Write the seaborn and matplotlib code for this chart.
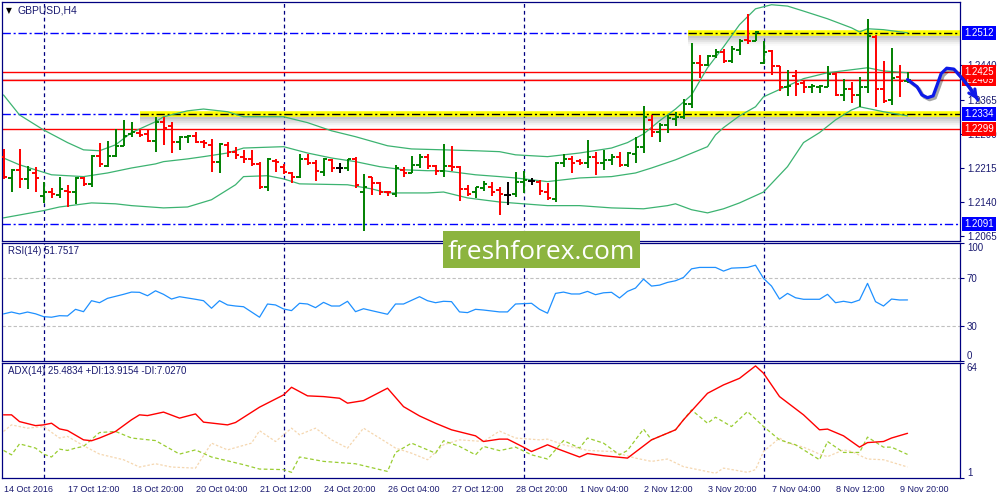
import numpy as np
import matplotlib
matplotlib.use("Agg")
import matplotlib.pyplot as plt
import matplotlib.patheffects as pe
from matplotlib.patches import Rectangle
import seaborn as sns

# GBPUSD H4 bars, one value per bar (14 Oct 2016 04:00 .. 9 Nov 2016 16:00)
opens = [1.2239, 1.2192, 1.2210, 1.2190, 1.2203, 1.2153, 1.2160, 1.2155, 1.2164, 1.2162,
         1.2192, 1.2179, 1.2241, 1.2219, 1.2241, 1.2263, 1.2289, 1.2292, 1.2289, 1.2274,
         1.2316, 1.2307, 1.2272, 1.2282, 1.2285, 1.2272, 1.2265, 1.2228, 1.2265, 1.2250,
         1.2238, 1.2234, 1.2222, 1.2173, 1.2230, 1.2216, 1.2204, 1.2195, 1.2234, 1.2226,
         1.2206, 1.2232, 1.2214, 1.2214, 1.2234, 1.2161, 1.2194, 1.2181, 1.2162, 1.2156,
         1.2210, 1.2204, 1.2221, 1.2239, 1.2219, 1.2208, 1.2219, 1.2216, 1.2167, 1.2160,
         1.2170, 1.2172, 1.2166, 1.2155, 1.2157, 1.2182, 1.2186, 1.2184, 1.2160, 1.2145,
         1.2225, 1.2234, 1.2230, 1.2225, 1.2239, 1.2226, 1.2232, 1.2239, 1.2221, 1.2245,
         1.2261, 1.2320, 1.2294, 1.2309, 1.2322, 1.2327, 1.2356, 1.2445, 1.2441, 1.2460,
         1.2469, 1.2449, 1.2474, 1.2497, 1.2493, 1.2446, 1.2471, 1.2438, 1.2392, 1.2417,
         1.2401, 1.2392, 1.2392, 1.2392, 1.2422, 1.2375, 1.2388, 1.2375, 1.2392, 1.2502,
         1.2388, 1.2363, 1.2414, 1.2405]
highs = [1.2256, 1.2211, 1.2256, 1.2219, 1.2217, 1.2182, 1.2169, 1.2194, 1.2177, 1.2194,
         1.2195, 1.2243, 1.2270, 1.2274, 1.2300, 1.2320, 1.2316, 1.2300, 1.2300, 1.2327,
         1.2327, 1.2316, 1.2285, 1.2287, 1.2294, 1.2276, 1.2278, 1.2269, 1.2272, 1.2260,
         1.2253, 1.2253, 1.2228, 1.2236, 1.2234, 1.2223, 1.2206, 1.2245, 1.2245, 1.2232,
         1.2236, 1.2234, 1.2226, 1.2234, 1.2238, 1.2201, 1.2195, 1.2184, 1.2164, 1.2221,
         1.2216, 1.2241, 1.2245, 1.2245, 1.2221, 1.2267, 1.2263, 1.2219, 1.2177, 1.2173,
         1.2186, 1.2182, 1.2172, 1.2182, 1.2206, 1.2208, 1.2192, 1.2188, 1.2181, 1.2228,
         1.2245, 1.2241, 1.2234, 1.2276, 1.2250, 1.2253, 1.2245, 1.2250, 1.2250, 1.2282,
         1.2350, 1.2331, 1.2313, 1.2331, 1.2338, 1.2366, 1.2489, 1.2463, 1.2463, 1.2476,
         1.2476, 1.2482, 1.2498, 1.2554, 1.2517, 1.2493, 1.2474, 1.2439, 1.2430, 1.2430,
         1.2405, 1.2400, 1.2397, 1.2438, 1.2424, 1.2410, 1.2403, 1.2414, 1.2542, 1.2508,
         1.2449, 1.2478, 1.2441, 1.2426]
lows = [1.2190, 1.2162, 1.2170, 1.2168, 1.2162, 1.2137, 1.2148, 1.2148, 1.2129, 1.2135,
        1.2175, 1.2171, 1.2216, 1.2216, 1.2239, 1.2263, 1.2282, 1.2282, 1.2272, 1.2250,
        1.2265, 1.2248, 1.2253, 1.2269, 1.2270, 1.2258, 1.2206, 1.2204, 1.2239, 1.2234,
        1.2225, 1.2219, 1.2167, 1.2164, 1.2206, 1.2201, 1.2181, 1.2192, 1.2221, 1.2186,
        1.2197, 1.2206, 1.2204, 1.2208, 1.2170, 1.2076, 1.2155, 1.2155, 1.2153, 1.2151,
        1.2194, 1.2203, 1.2214, 1.2211, 1.2199, 1.2195, 1.2208, 1.2142, 1.2153, 1.2148,
        1.2164, 1.2153, 1.2111, 1.2133, 1.2151, 1.2159, 1.2177, 1.2155, 1.2144, 1.2138,
        1.2217, 1.2204, 1.2221, 1.2214, 1.2199, 1.2210, 1.2221, 1.2216, 1.2217, 1.2225,
        1.2248, 1.2283, 1.2272, 1.2292, 1.2307, 1.2322, 1.2346, 1.2412, 1.2439, 1.2456,
        1.2446, 1.2445, 1.2463, 1.2488, 1.2493, 1.2444, 1.2419, 1.2383, 1.2373, 1.2372,
        1.2379, 1.2380, 1.2380, 1.2392, 1.2373, 1.2361, 1.2358, 1.2348, 1.2380, 1.2348,
        1.2358, 1.2353, 1.2370, 1.2401]
closes = [1.2195, 1.2210, 1.2190, 1.2210, 1.2192, 1.2160, 1.2156, 1.2167, 1.2161, 1.2192,
          1.2179, 1.2241, 1.2223, 1.2241, 1.2263, 1.2285, 1.2294, 1.2287, 1.2274, 1.2316,
          1.2303, 1.2272, 1.2282, 1.2285, 1.2272, 1.2269, 1.2228, 1.2267, 1.2250, 1.2243,
          1.2234, 1.2223, 1.2173, 1.2234, 1.2228, 1.2206, 1.2195, 1.2234, 1.2226, 1.2208,
          1.2234, 1.2214, 1.2214, 1.2234, 1.2177, 1.2173, 1.2181, 1.2162, 1.2160, 1.2214,
          1.2204, 1.2221, 1.2239, 1.2219, 1.2208, 1.2219, 1.2216, 1.2167, 1.2157, 1.2172,
          1.2179, 1.2162, 1.2157, 1.2155, 1.2184, 1.2188, 1.2186, 1.2164, 1.2148, 1.2225,
          1.2234, 1.2225, 1.2225, 1.2239, 1.2226, 1.2232, 1.2238, 1.2221, 1.2247, 1.2261,
          1.2327, 1.2294, 1.2309, 1.2324, 1.2327, 1.2356, 1.2445, 1.2441, 1.2460, 1.2469,
          1.2451, 1.2476, 1.2495, 1.2493, 1.2513, 1.2470, 1.2438, 1.2392, 1.2395, 1.2400,
          1.2392, 1.2394, 1.2395, 1.2422, 1.2375, 1.2388, 1.2375, 1.2392, 1.2504, 1.2388,
          1.2361, 1.2412, 1.2405, 1.2409]

# Bollinger bands, read at the listed bars
upper_bars = [0, 2, 5, 8, 10, 12, 14, 16, 19, 20, 23, 25, 28, 30, 35, 38, 41, 44, 48, 51,
              55, 59, 62, 64, 68, 72, 76, 78, 80, 82, 84, 86, 88, 90, 92, 94, 96, 98, 100, 103,
              106, 107, 108, 110, 113]
upper = [1.2375, 1.2331, 1.2298, 1.2270, 1.2254, 1.2252, 1.2265, 1.2292, 1.2316, 1.2327,
         1.2340, 1.2344, 1.2338, 1.2327, 1.2327, 1.2314, 1.2296, 1.2283, 1.2263, 1.2256,
         1.2254, 1.2252, 1.2250, 1.2243, 1.2239, 1.2247, 1.2258, 1.2270, 1.2289, 1.2318,
         1.2344, 1.2375, 1.2435, 1.2481, 1.2530, 1.2565, 1.2574, 1.2571, 1.2560, 1.2543,
         1.2523, 1.2514, 1.2521, 1.2519, 1.2512]
mid_bars = [0, 2, 6, 10, 13, 16, 19, 20, 23, 25, 28, 30, 35, 38, 41, 44, 47, 50, 53, 55,
            59, 62, 64, 68, 72, 76, 79, 81, 84, 88, 89, 90, 92, 94, 95, 98, 100, 103, 108, 110,
            113]
middle = [1.2236, 1.2221, 1.2199, 1.2195, 1.2203, 1.2214, 1.2223, 1.2228, 1.2234, 1.2239,
          1.2247, 1.2258, 1.2261, 1.2247, 1.2236, 1.2228, 1.2217, 1.2210, 1.2208, 1.2208,
          1.2199, 1.2195, 1.2192, 1.2184, 1.2192, 1.2195, 1.2203, 1.2214, 1.2232, 1.2261,
          1.2287, 1.2303, 1.2329, 1.2349, 1.2371, 1.2395, 1.2411, 1.2424, 1.2435, 1.2428,
          1.2424]
lower_bars = [0, 5, 7, 11, 14, 16, 20, 23, 26, 29, 30, 33, 35, 37, 43, 46, 48, 53, 55, 58,
              62, 68, 72, 76, 80, 83, 84, 86, 88, 90, 92, 95, 98, 100, 102, 104, 106, 107, 110, 113]
lower = [1.2104, 1.2120, 1.2128, 1.2137, 1.2135, 1.2131, 1.2126, 1.2128, 1.2144, 1.2177,
         1.2195, 1.2197, 1.2190, 1.2179, 1.2177, 1.2168, 1.2159, 1.2159, 1.2161, 1.2148,
         1.2139, 1.2131, 1.2131, 1.2126, 1.2124, 1.2131, 1.2135, 1.2122, 1.2115, 1.2124,
         1.2137, 1.2161, 1.2217, 1.2270, 1.2292, 1.2320, 1.2342, 1.2349, 1.2338, 1.2329]

# RSI(14)
rsi_bars = [0, 1, 2, 3, 4, 5, 6, 7, 8, 9,
            10, 11, 12, 13, 15, 16, 17, 18, 19, 20,
            21, 22, 24, 25, 26, 27, 28, 29, 30, 32,
            33, 34, 35, 36, 37, 38, 39, 40, 41, 42,
            43, 44, 45, 46, 48, 49, 50, 52, 53, 54,
            55, 56, 57, 58, 59, 60, 62, 63, 64, 66,
            67, 68, 69, 70, 71, 72, 73, 74, 75, 76,
            77, 78, 79, 80, 81, 82, 83, 84, 85, 86,
            87, 89, 90, 91, 93, 94, 95, 96, 97, 98,
            99, 100, 102, 103, 104, 105, 106, 107, 108, 109,
            110, 111, 112, 113]
rsi = [39.9, 41.5, 39.9, 41.5, 40.0, 37.6, 37.1, 38.4, 38.2, 43.8,
       41.8, 51.1, 49.4, 53.1, 56.5, 58.4, 58.2, 55.3, 59.5, 56.5,
       52.5, 54.5, 52.3, 51.1, 44.7, 51.1, 47.5, 46.6, 46.0, 37.1,
       48.3, 47.5, 44.1, 42.7, 48.9, 48.3, 45.2, 49.7, 46.6, 46.6,
       50.6, 41.8, 44.3, 42.7, 39.6, 48.3, 48.3, 54.5, 51.1, 49.4,
       50.6, 50.3, 41.6, 41.0, 43.8, 43.2, 41.6, 41.6, 48.3, 48.9,
       43.8, 40.5, 57.3, 58.4, 56.8, 56.8, 59.0, 56.2, 57.8, 58.2,
       53.4, 59.0, 61.8, 69.4, 63.5, 64.3, 66.6, 68.0, 70.8, 78.1,
       79.3, 79.3, 76.2, 78.7, 79.3, 81.2, 70.0, 63.5, 52.5, 57.3,
       53.6, 52.3, 52.3, 56.5, 49.4, 50.6, 49.4, 51.7, 65.8, 50.3,
       46.6, 52.5, 51.7, 51.75]

# ADX(14) with +DI / -DI
adx_bars = [0, 1, 2, 4, 5, 6, 7, 8, 10, 11,
            12, 14, 16, 17, 18, 20, 22, 24, 25, 28,
            29, 32, 35, 36, 38, 40, 42, 43, 45, 48,
            50, 52, 54, 56, 59, 60, 62, 63, 65, 66,
            68, 69, 72, 73, 75, 78, 81, 84, 85, 88,
            90, 92, 94, 95, 97, 100, 102, 103, 105, 107,
            108, 110, 111, 113]
adx = [35.6, 35.6, 31.9, 29.7, 30.1, 31.0, 27.9, 27.0, 21.9, 21.4,
       22.9, 26.5, 32.9, 35.6, 35.2, 37.1, 33.8, 36.1, 31.6, 30.1,
       31.4, 39.8, 46.5, 50.7, 46.0, 45.6, 44.7, 42.0, 43.4, 50.2,
       40.1, 35.0, 31.0, 27.4, 24.1, 21.0, 22.3, 22.3, 17.9, 15.5,
       19.2, 17.4, 12.5, 14.4, 13.2, 11.9, 21.9, 27.4, 32.9, 47.4,
       52.0, 55.6, 62.4, 58.4, 45.6, 35.6, 27.4, 27.8, 24.1, 17.9,
       20.4, 21.0, 22.9, 25.48]
pdi_bars = [0, 1, 2, 4, 5, 6, 7, 8, 9, 10,
            12, 14, 16, 19, 22, 24, 26, 30, 32, 35,
            36, 37, 40, 44, 48, 49, 51, 54, 55, 57,
            59, 60, 62, 64, 66, 68, 70, 72, 73, 75,
            77, 78, 80, 81, 84, 86, 88, 89, 91, 93,
            95, 97, 99, 102, 103, 105, 107, 108, 110, 111,
            113]
plus_di = [16.1, 13.7, 19.7, 17.4, 14.1, 12.5, 16.8, 16.1, 17.4, 18.3,
           25.9, 26.5, 22.9, 21.5, 14.1, 16.4, 12.5, 8.3, 5.9, 5.6,
           4.1, 12.5, 10.1, 8.8, 4.6, 15.0, 20.1, 14.6, 21.4, 18.3,
           13.7, 18.3, 16.0, 17.9, 13.7, 11.4, 21.5, 17.4, 22.9, 20.1,
           13.7, 16.1, 27.8, 21.9, 27.4, 38.3, 31.0, 34.3, 29.2, 37.4,
           29.2, 21.9, 19.2, 11.0, 21.0, 15.0, 15.0, 23.4, 17.9, 17.9,
           13.92]
mdi_bars = [0, 1, 3, 5, 7, 8, 10, 12, 15, 17,
            19, 21, 24, 26, 28, 31, 32, 34, 36, 37,
            39, 41, 43, 45, 47, 49, 51, 53, 55, 57,
            60, 62, 64, 67, 68, 70, 73, 76, 79, 81,
            83, 85, 89, 90, 93, 94, 95, 97, 98, 100,
            102, 103, 105, 106, 108, 110, 113]
minus_di = [26.5, 30.1, 28.3, 29.2, 22.9, 23.8, 18.7, 14.1, 11.0, 7.0,
            8.8, 7.0, 6.4, 20.1, 16.4, 20.1, 26.9, 21.0, 28.3, 24.7,
            28.3, 21.9, 17.4, 28.3, 22.9, 17.4, 14.6, 11.0, 19.2, 21.9,
            21.0, 26.7, 22.9, 21.9, 22.3, 19.2, 16.1, 15.5, 11.9, 10.1,
            11.4, 7.2, 3.6, 6.4, 4.1, 5.6, 15.5, 22.9, 20.1, 17.9,
            14.1, 12.7, 16.4, 15.5, 11.4, 11.0, 7.03]

# levels drawn on the chart
blue_levels = [1.2512, 1.2334, 1.2091]
red_levels = [1.2425, 1.2409, 1.2299]
zone_levels = [1.2512, 1.2334]
zone_start = [85.6, 17.1]          # bar where the yellow zone begins
week_starts = [5, 35, 65, 95]      # Monday 00:00 bars
price_ticks = [1.2065, 1.2140, 1.2215, 1.2290, 1.2365, 1.2440]

# hand-drawn forecast path
fc_x = [113, 114.2, 114.8, 115.5, 116.2, 116.7, 117.2, 117.9, 118.8, 119.8, 120.8, 121.8]
fc_y = [1.2409, 1.2393, 1.2375, 1.2369, 1.2373, 1.2397, 1.2422, 1.2434, 1.2432, 1.2412, 1.2390, 1.2364]

time_bars = [0, 8, 16, 24, 32, 40, 48, 56, 64, 72, 80, 88, 96, 104, 112]
time_labels = ["14 Oct 2016", "17 Oct 12:00", "18 Oct 20:00", "20 Oct 04:00", "21 Oct 12:00",
               "24 Oct 20:00", "26 Oct 04:00", "27 Oct 12:00", "28 Oct 20:00", "1 Nov 04:00",
               "2 Nov 12:00", "3 Nov 20:00", "7 Nov 04:00", "8 Nov 12:00", "9 Nov 20:00"]

sns.set_style("white")
plt.rcParams["font.family"] = ["Liberation Sans", "DejaVu Sans"]

NAVY = "#000080"
TXT = "#1a1a70"
XL = (-0.19, 119.56)

fig = plt.figure(figsize=(10, 5), dpi=100)
ax = fig.add_axes([0.002, 0.518, 0.958, 0.478])
ax_rsi = fig.add_axes([0.002, 0.278, 0.958, 0.236])
ax_adx = fig.add_axes([0.002, 0.044, 0.958, 0.230])

for a in (ax, ax_rsi, ax_adx):
    a.set_xlim(*XL)
    for s in a.spines.values():
        s.set_color(NAVY)
        s.set_linewidth(0.9)
    for b in week_starts:
        a.axvline(b, color=NAVY, lw=0.9, dashes=[3, 2.5], zorder=1)
    a.yaxis.tick_right()
    a.tick_params(axis="y", direction="out", length=3, width=0.8, color=NAVY,
                  labelcolor=TXT, labelsize=7, pad=2)

# ---- main price panel
ax.set_ylim(1.2053, 1.2580)
ax.set_xticks([])

for p in blue_levels:
    ax.axhline(p, color="#0000ff", lw=1.0, dashes=[6, 2, 1.5, 2], zorder=1.6)
for p in red_levels:
    ax.axhline(p, color="#ff0000", lw=1.0, zorder=1.6)
ax.axhline(1.2411, color="#d8cccc", lw=0.8, zorder=1.5)

# yellow zones with a soft grey shadow underneath
shadow = [pe.SimpleLineShadow(offset=(0, -d), shadow_color="#606060", alpha=a, linewidth=4)
          for d, a in ((1.5, 0.18), (3.0, 0.14), (4.5, 0.10), (6.0, 0.06), (7.5, 0.03))]
for p, s in zip(zone_levels, zone_start):
    ax.hlines(p, s, XL[1], colors="#ffff00", lw=4.0, zorder=1.7,
              path_effects=shadow + [pe.Normal()])
    ax.hlines(p, s, XL[1], colors="black", lw=1.0, linestyles=(0, (6, 2, 1.5, 2)), zorder=1.8)

band_col = "#3cb371"
sns.lineplot(x=upper_bars, y=upper, ax=ax, color=band_col, lw=0.9, estimator=None, zorder=2)
sns.lineplot(x=mid_bars, y=middle, ax=ax, color=band_col, lw=0.9, estimator=None, zorder=2)
sns.lineplot(x=lower_bars, y=lower, ax=ax, color=band_col, lw=0.9, estimator=None, zorder=2)

o, h, l, c = map(np.array, (opens, highs, lows, closes))
idx = np.arange(len(o))
cols = np.where(np.isclose(c, o), "black", np.where(c > o, "#008000", "#ff0000"))
ax.vlines(idx, l, h, colors=cols, lw=1.4, zorder=3)
ax.hlines(o, idx - 0.42, idx, colors=cols, lw=1.4, zorder=3)
ax.hlines(c, idx, idx + 0.42, colors=cols, lw=1.4, zorder=3)

ax.set_yticks(price_ticks)
ax.set_yticklabels([f"{v:.4f}" for v in price_ticks])
ax.set_ylabel("")

# price boxes on the right scale
box_list = [(1.2512, "#0000ff"), (1.2409, "#ff0000"), (1.2425, "#ff0000"),
            (1.2334, "#0000ff"), (1.2299, "#ff0000"), (1.2091, "#0000ff")]
trans = ax.get_yaxis_transform()
for k, (p, col) in enumerate(box_list):
    ax.text(1.0045, p, f"{p:.4f}", transform=trans, ha="left", va="center", fontsize=7,
            color="white", zorder=6 + k,
            bbox=dict(boxstyle="square,pad=0.2", fc=col, ec="none"))

# forecast curve with shadow and arrow
ax.plot(fc_x, fc_y, color="#0d1ae8", lw=2.3, clip_on=False, zorder=20,
        solid_capstyle="round", solid_joinstyle="round",
        path_effects=[pe.SimpleLineShadow(offset=(1.5, -1.5), alpha=0.35), pe.Normal()])
ax.annotate("", xy=(fc_x[-1], fc_y[-1]), xytext=(fc_x[-2], fc_y[-2]),
            arrowprops=dict(arrowstyle="->", color="#0d1ae8", lw=2.3, mutation_scale=13,
                            shrinkA=0, shrinkB=0),
            annotation_clip=False, zorder=21)

ax.text(0.004, 0.966, "\u25bc", transform=ax.transAxes, fontsize=5.5, color="black",
        va="center", ha="left", family="DejaVu Sans")
ax.text(0.0165, 0.966, "GBPUSD,H4", transform=ax.transAxes, fontsize=7.5, color=TXT,
        va="center", ha="left")

# ---- RSI panel
ax_rsi.set_ylim(0, 100)
ax_rsi.set_xticks([])
ax_rsi.axhline(30, color="#c0c0c0", lw=0.8, dashes=[3, 2], zorder=1)
ax_rsi.axhline(70, color="#c0c0c0", lw=0.8, dashes=[3, 2], zorder=1)
sns.lineplot(x=rsi_bars, y=rsi, ax=ax_rsi, color="#1e90ff", lw=0.9, estimator=None, zorder=3)
ax_rsi.set_yticks([0, 30, 70, 100])
ax_rsi.set_yticklabels(["0", "30", "70", "100"])
tl = ax_rsi.get_yticklabels()
tl[0].set_va("bottom")
tl[3].set_va("top")
ax_rsi.set_ylabel("")
ax_rsi.text(0.0063, 0.93, "RSI(14) 51.7517", transform=ax_rsi.transAxes, fontsize=7,
            color=TXT, va="center", ha="left")

# ---- ADX panel
ax_adx.set_ylim(1, 64)
sns.lineplot(x=mdi_bars, y=minus_di, ax=ax_adx, color="#f5d7b0", lw=0.9, estimator=None, zorder=2)
ax_adx.lines[-1].set_dashes([2, 1.5])
sns.lineplot(x=pdi_bars, y=plus_di, ax=ax_adx, color="#9acd32", lw=0.9, estimator=None, zorder=3)
ax_adx.lines[-1].set_dashes([3, 2])
sns.lineplot(x=adx_bars, y=adx, ax=ax_adx, color="#ff0000", lw=1.0, estimator=None, zorder=4)
ax_adx.set_yticks([1, 64])
ax_adx.set_yticklabels(["1", "64"])
tl = ax_adx.get_yticklabels()
tl[0].set_va("bottom")
tl[1].set_va("top")
ax_adx.set_ylabel("")
ax_adx.set_xticks(time_bars)
ax_adx.set_xticklabels(time_labels, ha="left")
ax_adx.tick_params(axis="x", direction="out", length=3, width=0.8, color=NAVY,
                   labelcolor=TXT, labelsize=6.5, pad=2)
ax_adx.text(0.0063, 0.93, "ADX(14) 25.4834 +DI:13.9154 -DI:7.0270", transform=ax_adx.transAxes,
            fontsize=7, color=TXT, va="center", ha="left")

# watermark
fig.add_artist(Rectangle((0.443, 0.464), 0.197, 0.074, transform=fig.transFigure,
                         fc="#8cb43f", ec="none", zorder=30))
fig.text(0.5415, 0.482, "freshforex.com", color="white", fontsize=19, family="Open Sans",
         ha="center", va="baseline", zorder=31)

fig.savefig("out.png", dpi=100, facecolor="white")
